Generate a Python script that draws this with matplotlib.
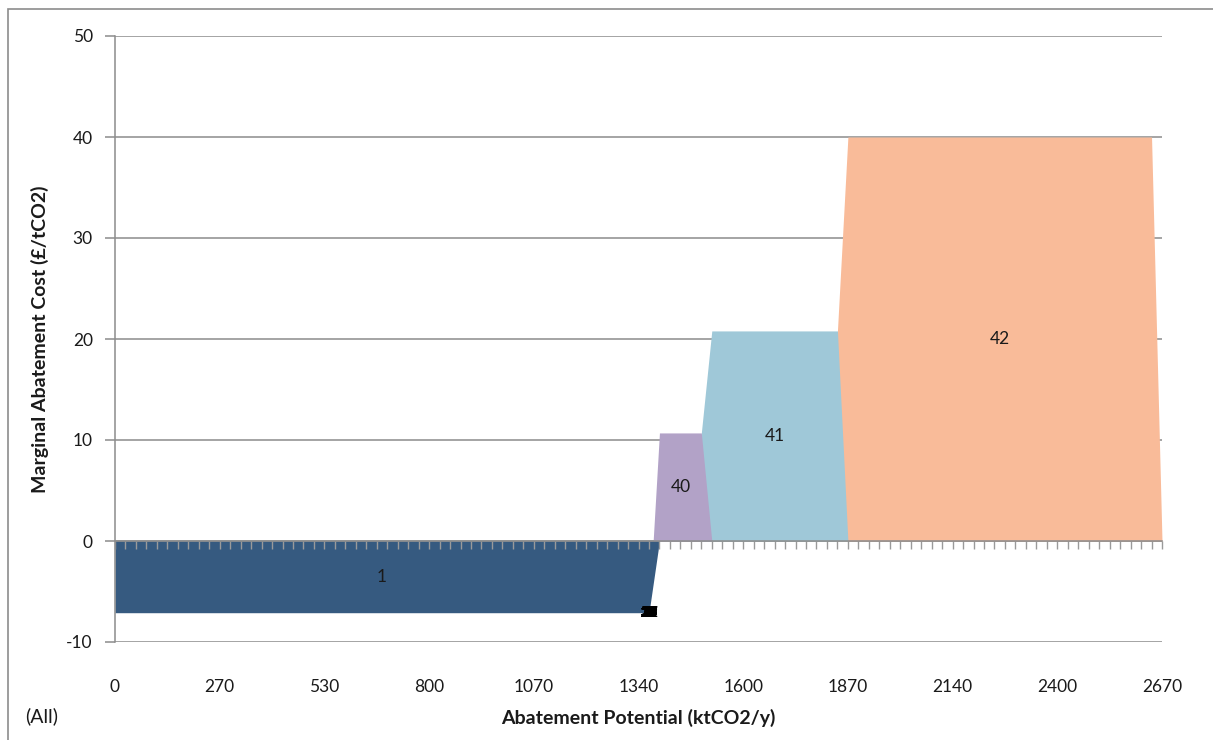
import numpy as np
import matplotlib
matplotlib.use("Agg")
import matplotlib.pyplot as plt
from matplotlib.patches import Rectangle

plt.rcParams['font.family'] = ['Lato', 'DejaVu Sans']
plt.rcParams['axes.unicode_minus'] = False

# category axis of the excel area chart (101 points, step 26.7 ktCO2/y)
n_cats = 101
step = 26.7
x_labels = ['0', '270', '530', '800', '1070', '1340', '1600', '1870', '2140', '2400', '2670']

# measures: id, abatement potential (ktCO2/y), cost (GBP/tCO2)
measure_ids = [1] + list(range(2, 40)) + [40, 41, 42]
potentials = [1388.4] + [0.0] * 38 + [133.5, 347.1, 801.0]
costs = [-7.1] + [-7.1] * 38 + [10.7, 20.8, 40.0]
colors = {1: '#365a80', 40: '#b2a2c7', 41: '#9fc8d8', 42: '#f9bb99'}

cats = np.linspace(0, step * (n_cats - 1), n_cats)

fig = plt.figure(figsize=(12.13, 7.40), dpi=100)
ax = fig.add_axes([115/1213, 1 - 642/740, (1162 - 115)/1213, (642 - 36)/740])

# build each series like the spreadsheet does: value per category, zero after it
series = []
start = 0
prev_cost = None
for mid, pot, cost in zip(measure_ids, potentials, costs):
    n = int(round(pot / step))
    vals = np.full(n_cats, np.nan)
    if n > 0:
        vals[start:start + n] = cost
        if start > 0 and prev_cost is not None:
            vals[start - 1] = prev_cost
        if start + n < n_cats:
            vals[start + n] = 0
        series.append((mid, vals, start, start + n - 1, cost))
        prev_cost = cost
    else:
        series.append((mid, None, start - 1, start - 1, cost))
    start += n

# later series at the back
for mid, vals, a, b, cost in reversed(series):
    if vals is None:
        continue
    ax.fill_between(cats, 0, vals, color=colors[mid], linewidth=0, zorder=0.6)

for mid, vals, a, b, cost in series:
    xm = (cats[a] + cats[b]) / 2
    if vals is None:
        ax.text(cats[a], cost, str(mid), ha='center', va='center',
                fontsize=10.5, fontweight='bold', color='black', zorder=4)
    else:
        ax.text(xm, cost / 2, str(mid), ha='center', va='center',
                fontsize=12.5, color='#1a1a1a', zorder=4)

ax.set_xlim(cats[0], cats[-1])
ax.set_ylim(-10, 50)
yticks = np.arange(-10, 51, 10)
ax.set_yticks(yticks)
for yv in yticks:
    ax.axhline(yv, color='#8c8c8c', linewidth=1.1, zorder=0.3)
ax.tick_params(axis='y', direction='out', length=7, width=1.1, color='#8c8c8c',
               labelsize=12.5, pad=9, labelcolor='#1a1a1a')

for s in ['top', 'right']:
    ax.spines[s].set_visible(False)
ax.spines['left'].set_color('#8c8c8c')
ax.spines['left'].set_linewidth(1.1)
ax.spines['bottom'].set_position(('data', 0))
ax.spines['bottom'].set_color('#8c8c8c')
ax.spines['bottom'].set_linewidth(1.1)
ax.set_xticks(cats)
ax.tick_params(axis='x', direction='out', length=6, width=1.0, color='#9a9a9a',
               labelbottom=False)

# category labels sit under the plot area
sec = ax.secondary_xaxis(-0.0)
sec.set_xticks(cats[::10])
sec.set_xticklabels(x_labels)
sec.tick_params(length=0, pad=27, labelsize=12.5, labelcolor='#1a1a1a')
sec.spines['bottom'].set_visible(False)

fig.text(40/1213, 1 - 339/740, 'Marginal Abatement Cost (£/tCO2)', rotation=90,
         ha='center', va='center', fontsize=14, fontweight='bold', color='#1a1a1a')
fig.text(638/1213, 1 - 718/740, 'Abatement Potential (ktCO2/y)',
         ha='center', va='center', fontsize=14, fontweight='bold', color='#1a1a1a')
fig.text(25/1213, 1 - 716/740, '(All)', ha='left', va='center', fontsize=14,
         color='#1a1a1a')

fig.add_artist(Rectangle((8/1213, -0.1), 1.2, 1 - 9/740 + 0.1, fill=False,
                         edgecolor='#8c8c8c', linewidth=1.2,
                         transform=fig.transFigure))

fig.savefig('out.png', dpi=100)
